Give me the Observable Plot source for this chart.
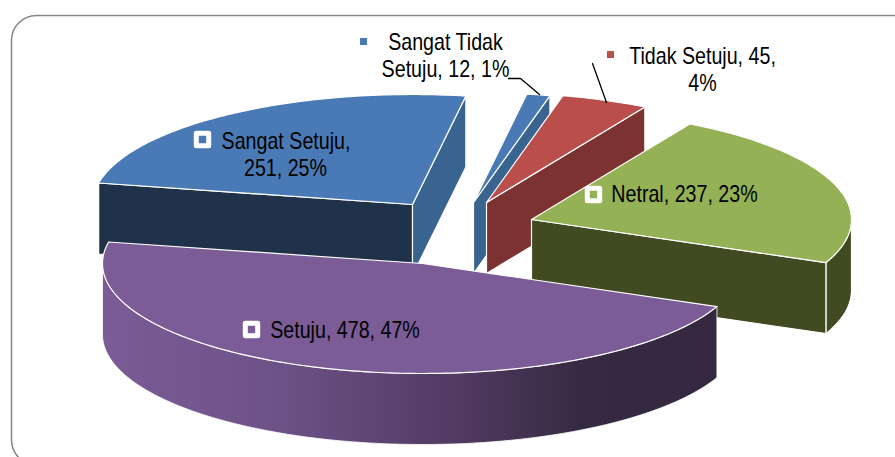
<!DOCTYPE html>
<html>
<head>
<meta charset="utf-8">
<style>html,body{margin:0;padding:0;background:#fff}svg{display:block}</style>
<script src="https://cdn.jsdelivr.net/npm/d3@7"></script>
<script src="https://cdn.jsdelivr.net/npm/@observablehq/plot@0.6"></script>
</head>
<body>
<script>
// Data
const categories = ["Sangat Tidak Setuju", "Tidak Setuju", "Netral", "Setuju", "Sangat Setuju"];
const values = [12, 45, 237, 478, 251];
const percents = [1, 4, 23, 47, 25];

// Styles
const topColors = ["#4a7ab5", "#b94e4a", "#94b155", "#7b5c96", "#4a7ab5"];
const cutColors = ["#3a6490", "#7c3230", "#414a21", "#33283f", "#3a6490"];
const frontCutColor = "#1f3249";

// Layout of the exploded tilted pie
const startDeg = 9.6, rx = 320, ry = 110, depth = 71, cx = 448.5, cy = 232;
const explode = [[24.5, -30], [37.5, -30], [82.5, -13], [-26.5, 31], [-36.5, -28]];

const total = d3.sum(values);
let acc = startDeg;
const slices = values.map((v, i) => {
  const a0 = acc, a1 = acc + v / total * 360;
  acc = a1;
  return {i, a0, a1, ax: cx + explode[i][0], ay: cy + explode[i][1]};
});
const pt = (s, deg, dz = 0) => {
  const t = deg * Math.PI / 180;
  return {x: s.ax + rx * Math.sin(t), y: s.ay - ry * Math.cos(t) + dz};
};
const arc = (s, d0, d1, dz = 0) => {
  const n = Math.max(2, Math.ceil(Math.abs(d1 - d0)));
  return d3.range(n + 1).map(k => pt(s, d0 + (d1 - d0) * k / n, dz));
};
const apex = (s, dz = 0) => ({x: s.ax, y: s.ay + dz});
const face = s => [apex(s), ...arc(s, s.a0, s.a1), apex(s)];
const cut = (s, deg) => [apex(s), pt(s, deg), pt(s, deg, depth), apex(s, depth), apex(s)];
const wall = (s, d0, d1) => {
  const a = arc(s, d0, d1), b = arc(s, d1, d0, depth);
  return [...a, ...b, a[0]];
};
const poly = (pts, fill, strokeWidth = 1.2) =>
  Plot.line(pts, {x: "x", y: "y", fill, stroke: "white", strokeWidth, strokeLinejoin: "round", curve: "linear"});

const [sts, ts, ne, se, ss] = slices;

const gradient = () => d3.create("svg:defs").html(`
  <linearGradient id="wallGrad" x1="0" x2="1" y1="0" y2="0">
    <stop offset="0" stop-color="#7b5c96"/>
    <stop offset="0.28" stop-color="#6d5288"/>
    <stop offset="0.55" stop-color="#553c66"/>
    <stop offset="0.78" stop-color="#362a42"/>
    <stop offset="1" stop-color="#33283f"/>
  </linearGradient>`).node();

// Labels
const split = [["Sangat Tidak", "Setuju, 12, 1%"], ["Tidak Setuju, 45,", "4%"], null, null, ["Sangat Setuju,", "251, 25%"]];
const labelName = i => `${categories[i]}, ${values[i]}, ${percents[i]}%`;
const lineSets = categories.map((c, i) => split[i] || [labelName(i)]);
const labelAnchors = [[[445, 42], [445, 69]], [[702, 56], [702, 83]], [[684, 194]], [[344.5, 330]], [[285.5, 141], [285, 168]]];
const labels = lineSets.flatMap((ls, i) => ls.map((text, j) => ({text, x: labelAnchors[i][j][0], y: labelAnchors[i][j][1]})));

const keyInside = [{i: 2, x: 593, y: 194}, {i: 3, x: 251, y: 329}, {i: 4, x: 202, y: 139}];
const keyOutside = [{i: 0, x: 363, y: 41}, {i: 1, x: 610, y: 54}];
const leaders = [
  [{x: 508, y: 78}, {x: 520, y: 78}, {x: 539, y: 94}],
  [{x: 592, y: 63}, {x: 606, y: 102}]
];

const chart = Plot.plot({
  width: 895, height: 457, margin: 0,
  x: {domain: [0, 895], range: [0, 895], axis: null},
  y: {domain: [0, 457], range: [0, 457], axis: null},
  style: {background: "white"},
  marks: [
    gradient,
    Plot.rect([{}], {x1: () => 11.5, x2: () => 930, y1: () => 15.5, y2: () => 465, fill: "white", stroke: "#868686", strokeWidth: 1.5, rx: 25, ry: 25}),
    // Sangat Setuju
    poly(cut(ss, ss.a0), frontCutColor),
    poly(cut(ss, ss.a1), cutColors[4]),
    poly(face(ss), topColors[4]),
    // Sangat Tidak Setuju
    poly(cut(sts, sts.a1), cutColors[0]),
    poly(face(sts), topColors[0]),
    // Tidak Setuju
    poly(cut(ts, ts.a1), cutColors[1]),
    poly(face(ts), topColors[1]),
    // Netral
    poly(wall(ne, 90, ne.a1), cutColors[2]),
    poly(cut(ne, ne.a1), cutColors[2]),
    poly(face(ne), topColors[2]),
    // Setuju
    poly(wall(se, se.a0, 270), "url(#wallGrad)", 0.8),
    poly(face(se), topColors[3]),
    // Leader lines
    ...leaders.map(l => Plot.line(l, {x: "x", y: "y", stroke: "black", strokeWidth: 1.3, curve: "linear"})),
    // Label keys
    Plot.dot(keyInside, {x: "x", y: "y", symbol: "square", r: 7, fill: d => topColors[d.i], stroke: "white", strokeWidth: 5, strokeLinejoin: "round"}),
    Plot.dot(keyOutside, {x: "x", y: "y", symbol: "square", r: 4, fill: d => topColors[d.i], stroke: "none"}),
    Plot.text(labels, {x: "x", y: "y", text: "text", fill: "black", fontSize: 23, fontFamily: "Liberation Sans, Arial, sans-serif", textAnchor: "middle", className: "pie-label"})
  ]
});
d3.select(chart).selectAll(".pie-label text").attr("transform", function () {
  return this.getAttribute("transform") + " scale(0.855,1)";
});
document.body.appendChild(chart);
</script>
</body>
</html>
